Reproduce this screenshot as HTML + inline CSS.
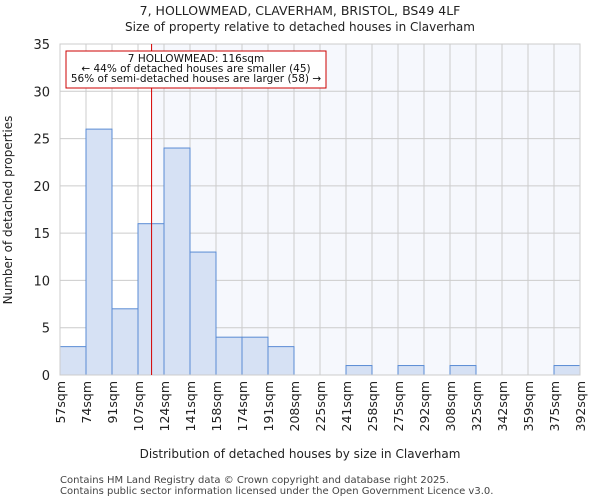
<!DOCTYPE html>
<html><head><meta charset="utf-8"><style>
body{margin:0;background:#fff;font-family:"DejaVu Sans","Liberation Sans",sans-serif}
</style></head><body>
<svg id="c" width="600" height="500" xmlns="http://www.w3.org/2000/svg" font-family="DejaVu Sans, Liberation Sans, sans-serif">
<text x="300" y="15" text-anchor="middle" font-size="12.5" fill="#222">7, HOLLOWMEAD, CLAVERHAM, BRISTOL, BS49 4LF</text>
<text x="300" y="31" text-anchor="middle" font-size="12" fill="#222">Size of property relative to detached houses in Claverham</text>
<g id="plot"></g>
<text x="300" y="458" text-anchor="middle" font-size="12" fill="#222">Distribution of detached houses by size in Claverham</text>
<text transform="translate(12,210) rotate(-90)" text-anchor="middle" font-size="12" fill="#222">Number of detached properties</text>
<text x="60" y="483" font-size="10" fill="#444">Contains HM Land Registry data © Crown copyright and database right 2025.</text>
<text x="60" y="494" font-size="10" fill="#444">Contains public sector information licensed under the Open Government Licence v3.0.</text>
</svg>
<script>
const binLabels=["57sqm","74sqm","91sqm","107sqm","124sqm","141sqm","158sqm","174sqm","191sqm","208sqm","225sqm","241sqm","258sqm","275sqm","292sqm","308sqm","325sqm","342sqm","359sqm","375sqm","392sqm"];
const counts=[3,26,7,16,24,13,4,4,3,0,0,1,0,1,0,1,0,0,0,1];
const yTicks=[0,5,10,15,20,25,30,35];
const xMin=57,xMax=392,subject=116;
const L=60,R=580,T=44,B=375,yMax=35;
const NS="http://www.w3.org/2000/svg";
const g=document.getElementById('plot');
const xs=v=>L+(v-xMin)/(xMax-xMin)*(R-L);
const bw=(R-L)/counts.length;
const xb=i=>L+i*bw;
const ys=v=>B-v/yMax*(B-T);
function el(t,a){const e=document.createElementNS(NS,t);for(const k in a)e.setAttribute(k,a[k]);g.appendChild(e);return e;}
let e=el('rect',{x:xs(subject),y:T,width:R-xs(subject),height:B-T,fill:'#f6f8fd'});


yTicks.forEach(v=>{const l=el('line',{x1:L,x2:R,y1:ys(v),y2:ys(v),stroke:'#ccc','stroke-width':1});


const t=el('text',{x:L-10,y:ys(v)+5,'text-anchor':'end','font-size':13,fill:'#222'});t.textContent=v;

});
binLabels.forEach((s,i)=>{const x=xb(i);const l=el('line',{x1:x,x2:x,y1:T,y2:B,stroke:'#ccc','stroke-width':1});


const t=el('text',{transform:`translate(${x+5},${B+6}) rotate(-90)`,'text-anchor':'end','font-size':12.5,fill:'#222'});t.textContent=s;

});
counts.forEach((c,i)=>{if(c<=0)return;const r=el('rect',{x:xb(i),y:ys(c),width:bw,height:B-ys(c),fill:'#d6e1f4',stroke:'#5a8bd4','stroke-width':1});

});
e=el('rect',{x:L,y:T,width:R-L,height:B-T,fill:'none',stroke:'#ccc'});


e=el('line',{x1:xs(subject),x2:xs(subject),y1:T,y2:B,stroke:'#d40000','stroke-width':1});


e=el('rect',{x:66,y:51,width:260,height:37,fill:'#fff',stroke:'#cc0000','stroke-width':1});


["7 HOLLOWMEAD: 116sqm","← 44% of detached houses are smaller (45)","56% of semi-detached houses are larger (58) →"].forEach((s,i)=>{const t=el('text',{x:196,y:62+i*10,'text-anchor':'middle','font-size':10.5,fill:'#111'});t.textContent=s;

});
</script>
</body></html>
